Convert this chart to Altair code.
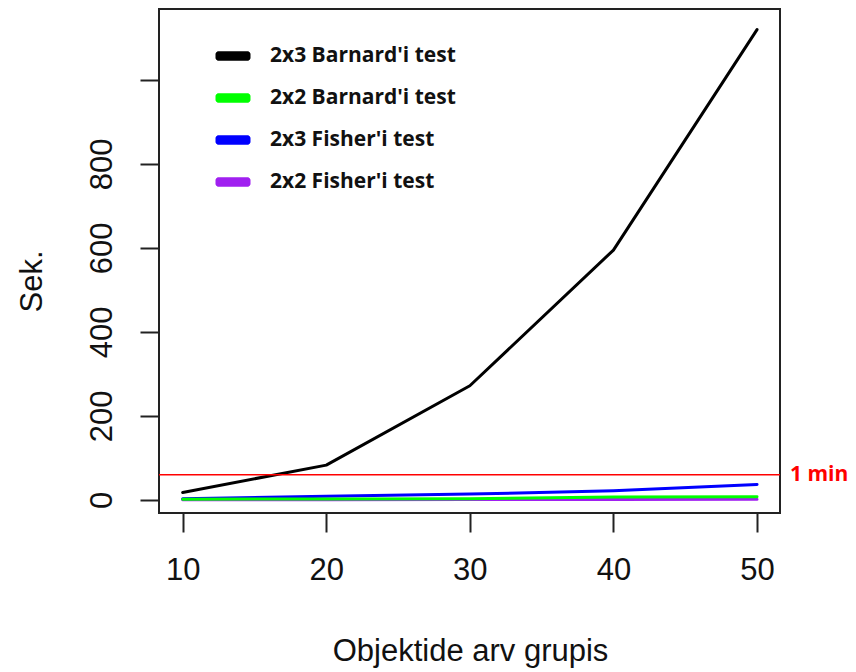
import altair as alt
import pandas as pd

# Data
group_sizes = [10, 20, 30, 40, 50]
series_names = ["2x3 Barnard'i test", "2x2 Barnard'i test", "2x3 Fisher'i test", "2x2 Fisher'i test"]
barnard_2x3 = [18, 83, 272, 595, 1120]
barnard_2x2 = [2, 2.5, 3, 7, 7.5]
fisher_2x3 = [3, 9, 14, 22, 37]
fisher_2x2 = [0.5, 0.7, 1, 1.2, 1.5]
series_colors = ["#000000", "#00FF00", "#0000FF", "#A020F0"]
y_ticks = [0, 200, 400, 600, 800, 1000]
x_ticks = [10, 20, 30, 40, 50]
limit_seconds = 60

# drawing order: purple, blue, green, black
draw_order = [(series_names[3], fisher_2x2), (series_names[2], fisher_2x3),
              (series_names[1], barnard_2x2), (series_names[0], barnard_2x3)]
rows = []
for order, (name, vals) in enumerate(draw_order):
    for x, v in zip(group_sizes, vals):
        rows.append({"n": x, "sek": v, "test": name, "ord": order})
df = pd.DataFrame(rows)

W, H = 621, 504
xscale = alt.Scale(domain=[8.35, 51.6], nice=False, zero=False)
yscale = alt.Scale(domain=[-31, 1169], nice=False, zero=False)

axis_font = "Liberation Sans"
fs = 31

# thick rounded bar legend symbol made of stacked horizontal strokes
bar_symbol = ("M-0.90,-0.19H0.90M-0.96,-0.14H0.96M-0.99,-0.09H0.99M-1,-0.045H1M-1,0H1"
              "M-1,0.045H1M-0.99,0.09H0.99M-0.96,0.14H0.96M-0.90,0.19H0.90")

lines = alt.Chart(df).mark_line().encode(
    x=alt.X("n:Q", scale=xscale,
            axis=alt.Axis(values=x_ticks, title="Objektide arv grupis", grid=False, domain=False,
                          tickSize=19, tickWidth=2, tickColor="#222", labelFont=axis_font,
                          labelFontSize=fs, labelColor="#111", labelPadding=23,
                          titleFont=axis_font, titleFontSize=fs, titleFontWeight="normal",
                          titleColor="#111", titleX=311, titleY=147, titleBaseline="alphabetic")),
    y=alt.Y("sek:Q", scale=yscale,
            axis=alt.Axis(values=y_ticks, title="Sek.", grid=False, domain=False,
                          labelExpr="datum.value == 1000 ? '' : datum.label",
                          tickSize=19, tickWidth=2, tickColor="#222", labelFont=axis_font,
                          labelFontSize=fs, labelColor="#111", labelAngle=-90, labelPadding=22,
                          titleFont=axis_font, titleFontSize=fs, titleFontWeight="normal",
                          titleColor="#111", titleX=-118, titleY=272, titleBaseline="alphabetic")),
    color=alt.Color("test:N", scale=alt.Scale(domain=series_names, range=series_colors),
                    legend=alt.Legend(title=None, orient="none", legendX=55, legendY=28,
                                      symbolType=bar_symbol, symbolSize=1225,
                                      labelFont="Open Sans", labelFontWeight="bold", labelFontSize=21,
                                      labelLimit=0, labelColor="#111", labelOffset=18,
                                      rowPadding=13, padding=0)),
    order="ord:Q",
    detail="test:N",
)

rule = alt.Chart(pd.DataFrame({"lim": [limit_seconds]})).mark_rule(color="#FF0000", strokeWidth=1.5).encode(
    y=alt.Y("lim:Q", scale=yscale)
)

label = alt.Chart(pd.DataFrame({"lim": [limit_seconds], "txt": ["1 min"]})).mark_text(
    align="left", baseline="middle", dx=10, color="#FF0000", font="Open Sans", fontWeight="bold", fontSize=21
).encode(
    x=alt.value(W), y=alt.Y("lim:Q", scale=yscale), text="txt:N"
)

chart = alt.layer(lines, rule, label).properties(
    width=W, height=H,
    autosize=alt.AutoSizeParams(type="none"),
    padding={"left": 159, "top": 9, "right": 76, "bottom": 159},
    background="white",
).configure_view(stroke="#222", strokeWidth=2).configure_line(
    strokeWidth=3, strokeCap="round", strokeJoin="round"
)

chart.save("out.html", embed_options={"renderer": "svg", "actions": False})
